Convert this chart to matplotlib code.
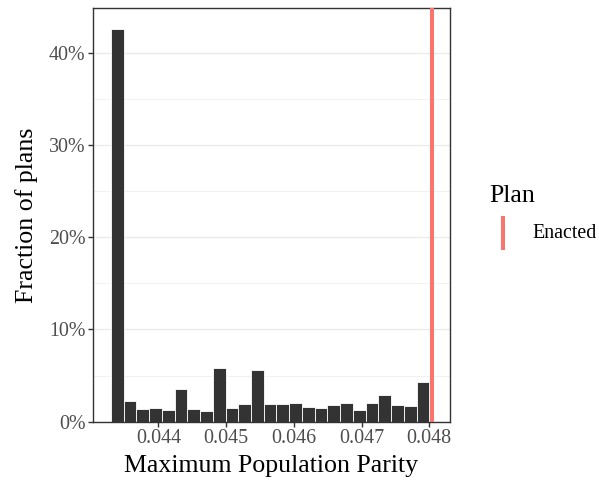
import numpy as np
import matplotlib.pyplot as plt
from matplotlib.lines import Line2D
from matplotlib.ticker import FuncFormatter, MultipleLocator

# histogram of max population parity across simulated plans
bin_lo = 0.0433
bin_hi = 0.0480
fractions = [0.425, 0.0227, 0.0134, 0.0152, 0.0126, 0.0350, 0.0134, 0.0119,
             0.0578, 0.0148, 0.0191, 0.0560, 0.0195, 0.0195, 0.0202, 0.0162,
             0.0148, 0.0177, 0.0202, 0.0126, 0.0199, 0.0292, 0.0177, 0.0166,
             0.0433]
enacted = 0.048035
x_ticks = [0.044, 0.045, 0.046, 0.047, 0.048]

plt.rcParams['font.family'] = ['Liberation Serif', 'DejaVu Serif']

W, H = 599, 483
fig = plt.figure(figsize=(W / 100, H / 100), dpi=100)
ax = fig.add_axes([0.1553, 0.127, 0.5960, 0.8564])

n = len(fractions)
edges = np.linspace(bin_lo, bin_hi, n + 1)
width = edges[1] - edges[0]
ax.bar(edges[:-1], fractions, width=width, align='edge', color='#333333',
       edgecolor='white', linewidth=0.6, zorder=2)
ax.axvline(enacted, color='#F8766D', linewidth=2.9, zorder=3)

ax.set_xlim(0.043036, 0.048306)
ax.set_ylim(0, 0.4482)
ax.set_xticks(x_ticks)
ax.xaxis.set_major_formatter(FuncFormatter(lambda v, p: f'{v:.3f}'))
ax.yaxis.set_major_locator(MultipleLocator(0.1))
ax.yaxis.set_minor_locator(MultipleLocator(0.05))
ax.yaxis.set_major_formatter(FuncFormatter(lambda v, p: f'{v*100:.0f}%'))

ax.grid(axis='y', which='major', color='#EBEBEB', linewidth=1.0, zorder=0)
ax.grid(axis='y', which='minor', color='#EBEBEB', linewidth=0.5, zorder=0)
ax.set_axisbelow(True)
for s in ax.spines.values():
    s.set_color('#333333')
    s.set_linewidth(1.0)
ax.tick_params(axis='both', which='major', colors='#333333', length=3.5,
               width=1.0, labelcolor='#4D4D4D', labelsize=14.4, pad=2)
ax.tick_params(axis='y', which='minor', length=0)

ax.set_xlabel('Maximum Population Parity', fontsize=18.6, labelpad=4.5)
ax.set_ylabel('Fraction of plans', fontsize=18.6, labelpad=7.5)

# legend drawn by hand, ggplot style (vertical key line)
fig.text(489 / W, 1 - 196 / H, 'Plan', fontsize=18.6, va='center', ha='left')
fig.add_artist(Line2D([503 / W, 503 / W], [1 - 218 / H, 1 - 248 / H],
                      transform=fig.transFigure, color='#F8766D', linewidth=2.9))
fig.text(532 / W, 1 - 234 / H, 'Enacted', fontsize=14.4, va='center', ha='left')

fig.savefig('out.png', dpi=100)
